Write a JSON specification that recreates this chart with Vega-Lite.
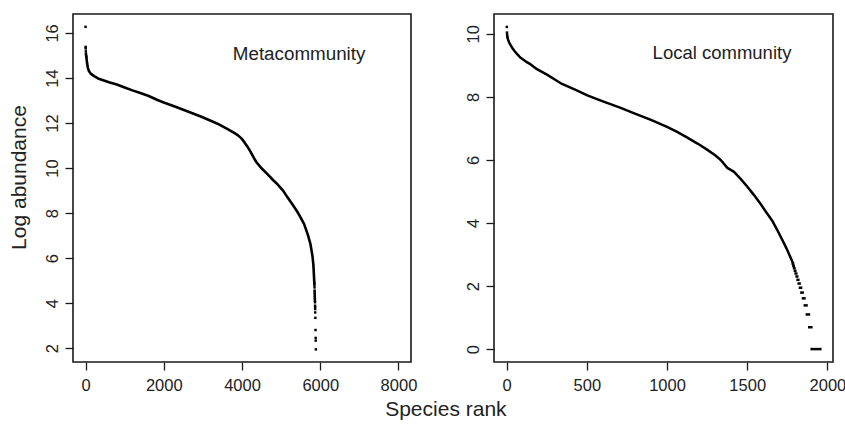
{
  "$schema": "https://vega.github.io/schema/vega-lite/v6.json",
  "background": "white",
  "padding": {"left": 7, "top": 13, "right": 0, "bottom": 5},
  "config": {
    "font": "Liberation Sans",
    "view": {"stroke": "#1a1a1a", "strokeWidth": 1.6},
    "axis": {
      "domain": false, "grid": false, "ticks": true,
      "tickColor": "#1a1a1a", "tickWidth": 1.3, "tickSize": 8,
      "labelFont": "Liberation Sans", "labelFontSize": 16.5, "labelColor": "#222222", "labelPadding": 5,
      "titleFont": "Liberation Sans", "titleFontSize": 21, "titleFontWeight": "normal", "titleColor": "#222222"
    },
    "axisX": {"labelPadding": 7},
    "concat": {"spacing": 46}
  },
  "title": {"text": "Species rank", "orient": "bottom", "anchor": "middle", "fontSize": 21, "fontWeight": "normal", "font": "Liberation Sans", "color": "#222222", "offset": 5, "dx": 19},
  "datasets": {
    "metaLine": [
      {"seg": "main", "rank": 22, "v": 14.92}, {"seg": "main", "rank": 40, "v": 14.65}, {"seg": "main", "rank": 60, "v": 14.45},
      {"seg": "main", "rank": 90, "v": 14.30}, {"seg": "main", "rank": 140, "v": 14.18}, {"seg": "main", "rank": 220, "v": 14.08},
      {"seg": "main", "rank": 320, "v": 13.98}, {"seg": "main", "rank": 450, "v": 13.90}, {"seg": "main", "rank": 600, "v": 13.81},
      {"seg": "main", "rank": 800, "v": 13.71}, {"seg": "main", "rank": 1000, "v": 13.58}, {"seg": "main", "rank": 1200, "v": 13.45},
      {"seg": "main", "rank": 1400, "v": 13.33}, {"seg": "main", "rank": 1600, "v": 13.21}, {"seg": "main", "rank": 1840, "v": 13.02},
      {"seg": "main", "rank": 2000, "v": 12.91}, {"seg": "main", "rank": 2300, "v": 12.72}, {"seg": "main", "rank": 2600, "v": 12.52},
      {"seg": "main", "rank": 2946, "v": 12.29}, {"seg": "main", "rank": 3200, "v": 12.10}, {"seg": "main", "rank": 3373, "v": 11.97},
      {"seg": "main", "rank": 3600, "v": 11.76}, {"seg": "main", "rank": 3800, "v": 11.56}, {"seg": "main", "rank": 3900, "v": 11.45},
      {"seg": "main", "rank": 3980, "v": 11.33}, {"seg": "main", "rank": 4060, "v": 11.15}, {"seg": "main", "rank": 4140, "v": 10.95},
      {"seg": "main", "rank": 4220, "v": 10.72}, {"seg": "main", "rank": 4300, "v": 10.46}, {"seg": "main", "rank": 4360, "v": 10.28},
      {"seg": "main", "rank": 4420, "v": 10.15}, {"seg": "main", "rank": 4500, "v": 9.99}, {"seg": "main", "rank": 4650, "v": 9.73},
      {"seg": "main", "rank": 4800, "v": 9.46}, {"seg": "main", "rank": 4907, "v": 9.28}, {"seg": "main", "rank": 5050, "v": 9.00},
      {"seg": "main", "rank": 5163, "v": 8.70}, {"seg": "main", "rank": 5300, "v": 8.36}, {"seg": "main", "rank": 5418, "v": 8.05},
      {"seg": "main", "rank": 5500, "v": 7.80}, {"seg": "main", "rank": 5589, "v": 7.51}, {"seg": "main", "rank": 5690, "v": 7.00},
      {"seg": "main", "rank": 5750, "v": 6.62}, {"seg": "main", "rank": 5801, "v": 6.10}, {"seg": "main", "rank": 5825, "v": 5.70},
      {"seg": "main", "rank": 5840, "v": 5.20}, {"seg": "main", "rank": 5848, "v": 4.92}
    ],
    "metaDots": [
      {"rank": 1, "v": 16.27}, {"rank": 3, "v": 15.38}, {"rank": 5, "v": 15.31}, {"rank": 8, "v": 15.18},
      {"rank": 11, "v": 15.08}, {"rank": 14, "v": 15.01}, {"rank": 18, "v": 14.95},
      {"rank": 5850, "v": 4.88}, {"rank": 5852, "v": 4.80}, {"rank": 5854, "v": 4.70}, {"rank": 5856, "v": 4.56},
      {"rank": 5857, "v": 4.49}, {"rank": 5858, "v": 4.41}, {"rank": 5860, "v": 4.33}, {"rank": 5861, "v": 4.26},
      {"rank": 5863, "v": 4.18}, {"rank": 5864, "v": 4.11}, {"rank": 5866, "v": 4.04}, {"rank": 5868, "v": 3.89},
      {"rank": 5869, "v": 3.83}, {"rank": 5870, "v": 3.74}, {"rank": 5872, "v": 3.59}, {"rank": 5875, "v": 3.35},
      {"rank": 5880, "v": 2.81}, {"rank": 5883, "v": 2.46}, {"rank": 5884, "v": 2.34}, {"rank": 5888, "v": 1.95}
    ],
    "localLine": [
      {"seg": "main", "rank": 5, "v": 9.88}, {"seg": "main", "rank": 10, "v": 9.80}, {"seg": "main", "rank": 18, "v": 9.70},
      {"seg": "main", "rank": 33, "v": 9.57}, {"seg": "main", "rank": 50, "v": 9.45}, {"seg": "main", "rank": 67, "v": 9.35},
      {"seg": "main", "rank": 85, "v": 9.25}, {"seg": "main", "rank": 120, "v": 9.12}, {"seg": "main", "rank": 150, "v": 9.03},
      {"seg": "main", "rank": 189, "v": 8.88}, {"seg": "main", "rank": 254, "v": 8.70}, {"seg": "main", "rank": 300, "v": 8.55},
      {"seg": "main", "rank": 345, "v": 8.41}, {"seg": "main", "rank": 430, "v": 8.22}, {"seg": "main", "rank": 503, "v": 8.05},
      {"seg": "main", "rank": 600, "v": 7.86}, {"seg": "main", "rank": 711, "v": 7.65}, {"seg": "main", "rank": 800, "v": 7.47},
      {"seg": "main", "rank": 900, "v": 7.27}, {"seg": "main", "rank": 1000, "v": 7.05}, {"seg": "main", "rank": 1060, "v": 6.90},
      {"seg": "main", "rank": 1127, "v": 6.71}, {"seg": "main", "rank": 1190, "v": 6.52}, {"seg": "main", "rank": 1252, "v": 6.32},
      {"seg": "main", "rank": 1300, "v": 6.15}, {"seg": "main", "rank": 1335, "v": 6.00}, {"seg": "main", "rank": 1376, "v": 5.75},
      {"seg": "main", "rank": 1418, "v": 5.62}, {"seg": "main", "rank": 1459, "v": 5.40}, {"seg": "main", "rank": 1501, "v": 5.15},
      {"seg": "main", "rank": 1540, "v": 4.90}, {"seg": "main", "rank": 1584, "v": 4.60}, {"seg": "main", "rank": 1620, "v": 4.33},
      {"seg": "main", "rank": 1655, "v": 4.08}, {"seg": "main", "rank": 1685, "v": 3.80}, {"seg": "main", "rank": 1712, "v": 3.53},
      {"seg": "main", "rank": 1732, "v": 3.33}, {"seg": "main", "rank": 1751, "v": 3.13}, {"seg": "main", "rank": 1768, "v": 2.93},
      {"seg": "main", "rank": 1782, "v": 2.77},
      {"seg": "a15", "rank": 1784, "v": 2.708}, {"seg": "a15", "rank": 1786, "v": 2.708},
      {"seg": "a14", "rank": 1788, "v": 2.639}, {"seg": "a14", "rank": 1790, "v": 2.639},
      {"seg": "a13", "rank": 1792, "v": 2.565}, {"seg": "a13", "rank": 1795, "v": 2.565},
      {"seg": "a12", "rank": 1797, "v": 2.485}, {"seg": "a12", "rank": 1800, "v": 2.485},
      {"seg": "a11", "rank": 1802, "v": 2.398}, {"seg": "a11", "rank": 1806, "v": 2.398},
      {"seg": "a10", "rank": 1808, "v": 2.303}, {"seg": "a10", "rank": 1812, "v": 2.303},
      {"seg": "a9", "rank": 1814, "v": 2.197}, {"seg": "a9", "rank": 1819, "v": 2.197},
      {"seg": "a8", "rank": 1821, "v": 2.079}, {"seg": "a8", "rank": 1827, "v": 2.079},
      {"seg": "a7", "rank": 1829, "v": 1.946}, {"seg": "a7", "rank": 1836, "v": 1.946},
      {"seg": "a6", "rank": 1838, "v": 1.792}, {"seg": "a6", "rank": 1846, "v": 1.792},
      {"seg": "a5", "rank": 1848, "v": 1.609}, {"seg": "a5", "rank": 1857, "v": 1.609},
      {"seg": "a4", "rank": 1859, "v": 1.386}, {"seg": "a4", "rank": 1870, "v": 1.386},
      {"seg": "a3", "rank": 1872, "v": 1.099}, {"seg": "a3", "rank": 1885, "v": 1.099},
      {"seg": "a2", "rank": 1887, "v": 0.693}, {"seg": "a2", "rank": 1900, "v": 0.693},
      {"seg": "a1", "rank": 1902, "v": 0.0}, {"seg": "a1", "rank": 1956, "v": 0.0}
    ],
    "localDots": [
      {"rank": 1, "v": 10.22}, {"rank": 2, "v": 10.04}, {"rank": 3, "v": 9.97}, {"rank": 4, "v": 9.92}
    ]
  },
  "hconcat": [
    {
      "width": 338, "height": 348,
      "layer": [
        {
          "data": {"name": "metaLine"},
          "mark": {"type": "line", "color": "black", "strokeWidth": 2.6, "strokeCap": "square", "strokeJoin": "round"},
          "encoding": {
            "x": {"field": "rank", "type": "quantitative", "scale": {"domain": [-320, 8320], "nice": false, "zero": false}, "axis": {"values": [0, 2000, 4000, 6000, 8000], "format": "d", "title": null}},
            "y": {"field": "v", "type": "quantitative", "scale": {"domain": [1.39, 16.84], "nice": false, "zero": false}, "axis": {"values": [2, 4, 6, 8, 10, 12, 14, 16], "labelAngle": -90, "title": "Log abundance", "titlePadding": 15, "titleY": 163}},
            "detail": {"field": "seg"}
          }
        },
        {
          "data": {"name": "metaDots"},
          "mark": {"type": "square", "color": "black", "size": 6, "opacity": 1},
          "encoding": {
            "x": {"field": "rank", "type": "quantitative"},
            "y": {"field": "v", "type": "quantitative"}
          }
        },
        {
          "data": {"values": [{}]},
          "mark": {"type": "text", "text": "Metacommunity", "align": "left", "baseline": "middle", "fontSize": 18.8, "font": "Liberation Sans", "color": "#222222"},
          "encoding": {"x": {"datum": 3765}, "y": {"datum": 15.06}}
        }
      ]
    },
    {
      "width": 339, "height": 348,
      "layer": [
        {
          "data": {"name": "localLine"},
          "mark": {"type": "line", "color": "black", "strokeWidth": 2.5, "strokeCap": "square", "strokeJoin": "round"},
          "encoding": {
            "x": {"field": "rank", "type": "quantitative", "scale": {"domain": [-79, 2035], "nice": false, "zero": false}, "axis": {"values": [0, 500, 1000, 1500, 2000], "format": "d", "title": null}},
            "y": {"field": "v", "type": "quantitative", "scale": {"domain": [-0.41, 10.63], "nice": false, "zero": false}, "axis": {"values": [0, 2, 4, 6, 8, 10], "labelAngle": -90, "title": null}},
            "detail": {"field": "seg"}
          }
        },
        {
          "data": {"name": "localDots"},
          "mark": {"type": "square", "color": "black", "size": 6, "opacity": 1},
          "encoding": {
            "x": {"field": "rank", "type": "quantitative"},
            "y": {"field": "v", "type": "quantitative"}
          }
        },
        {
          "data": {"values": [{}]},
          "mark": {"type": "text", "text": "Local community", "align": "left", "baseline": "middle", "fontSize": 18.5, "font": "Liberation Sans", "color": "#222222"},
          "encoding": {"x": {"datum": 910}, "y": {"datum": 9.39}}
        }
      ]
    }
  ]
}
